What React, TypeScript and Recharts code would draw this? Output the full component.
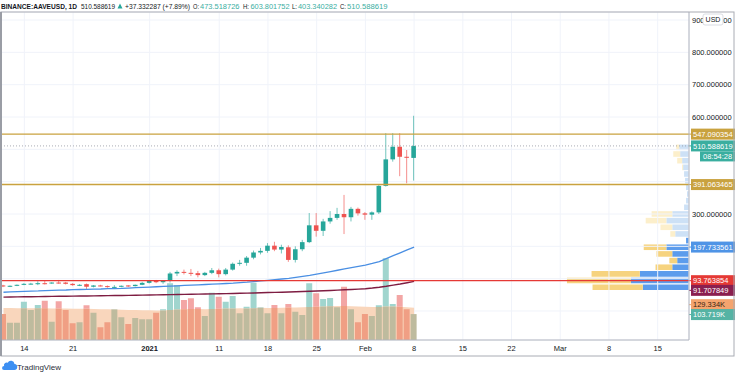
import React from 'react';
import {
  ComposedChart,
  BarChart,
  Bar,
  Line,
  Area,
  XAxis,
  YAxis,
  CartesianGrid,
  ReferenceLine,
  Cell,
} from 'recharts';

const FONT = '"Liberation Sans", Arial, sans-serif';
const UP = '#26a69a';
const DOWN = '#ef5350';

// day axis: Dec 11 2020 .. Mar 19 2021 (candles only up to Feb 8)
const FIRST_DAY = Date.UTC(2020, 11, 11);
const DAY_COUNT = 99;
const dayKeys = Array.from({ length: DAY_COUNT }, (_, i) =>
  new Date(FIRST_DAY + i * 86400000).toISOString().slice(0, 10)
);

const tickKeys = [
  '2020-12-14', '2020-12-21', '2021-01-01', '2021-01-11', '2021-01-18', '2021-01-25',
  '2021-02-01', '2021-02-08', '2021-02-15', '2021-02-22', '2021-03-01', '2021-03-08', '2021-03-15',
];
const tickLabels = ['14', '21', '2021', '11', '18', '25', 'Feb', '8', '15', '22', 'Mar', '8', '15'];

// OHLC, Dec 11 -> Feb 8
const opens = [
  79, 76, 78, 81, 84, 84, 86, 85.5, 88, 88, 84, 79, 83, 75, 79, 77, 74, 75, 79, 77, 81,
  87, 93, 89, 93, 116, 121, 118, 117, 111, 118, 126, 114, 128, 146, 149, 165, 181, 186, 202, 190,
  197, 158, 191, 213, 265, 248, 277, 288, 300, 290, 316,
  302, 298, 305, 387, 469, 508, 477, 473.518726,
];
const highs = [
  81, 79, 82, 86, 87, 92, 95, 89, 96, 90, 86, 83, 85, 80, 81, 79, 80, 79, 80, 82, 90,
  94, 96, 95, 121, 126, 128, 130, 124, 121, 133, 131, 133, 150, 158, 170, 187, 195, 210, 214, 205,
  203, 200, 220, 303, 303, 285, 309, 319, 359, 322, 320,
  306, 308, 392, 550, 550, 550, 498, 603.801752,
];
const lows = [
  74, 74, 77, 80, 82, 80, 82, 84, 84, 82, 78, 77, 67, 73, 76, 72, 70, 73, 74, 76, 80,
  85, 86, 84, 88, 108, 113, 108, 104, 108, 114, 104, 110, 125, 140, 140, 160, 175, 180, 185, 178,
  152, 150, 185, 210, 230, 232, 270, 282, 238, 277, 295,
  282, 282, 300, 385, 462, 417, 395, 403.340282,
];
const closes = [
  76, 78, 81, 84, 84.6, 86, 85.4, 88, 87, 84, 80, 81, 75, 79, 77, 74, 74.6, 78, 77, 81, 87,
  93, 89, 93, 116, 121, 118, 117, 111, 118, 126, 114, 128, 146, 149, 165, 181, 186, 202, 190, 198,
  158, 191, 213, 265, 248, 277, 288, 300, 290, 316, 302,
  298, 305, 387, 469, 508, 477, 474, 510.588619,
];

// volume (thousands) and its moving average
const volumes = [
  104, 69, 69, 153, 120, 140, 157, 73, 155, 120, 67, 71, 139, 109, 51, 71, 123, 91, 64, 88, 83,
  83, 109, 123, 227, 220, 160, 167, 131, 96, 189, 173, 153, 176, 107, 133, 229, 131, 107, 140, 107,
  144, 113, 100, 227, 187, 164, 168, 131, 213, 123, 71,
  104, 96, 139, 327, 144, 180, 123, 103.719,
];
const volumeMa = [
  128, 128, 127, 127, 127, 127, 127, 126, 126, 126, 125, 125, 125, 124, 123, 123, 122, 121, 120, 120, 119,
  119, 118, 118, 120, 122, 123, 124, 124, 123, 124, 125, 126, 126, 127, 126, 127, 129, 128, 128, 129,
  130, 130, 131, 132, 133, 134, 135, 136, 136, 135, 134,
  133, 132, 132, 134, 134, 133, 131, 129.334,
];

// moving averages
const blueMa = [
  58, 59, 60, 61, 61.5, 62, 63, 64, 64.5, 65, 66, 66.5, 67, 67.5, 68, 69, 69.5, 70, 71, 72, 73,
  74, 75, 76, 77, 78, 79, 80, 81, 82, 83, 84, 85, 86, 88, 89, 91, 93, 95, 97, 99,
  101, 104, 107, 110, 114, 118, 122, 126, 130, 134, 138,
  142, 147, 153, 162, 171, 180, 189, 197.733561,
];
const maroonMa = [
  43, 43.3, 43.6, 43.9, 44.2, 44.5, 44.8, 45.1, 45.4, 45.7, 46, 46.3, 46.6, 46.9, 47.2, 47.5, 47.8, 48.1, 48.4, 48.7, 49,
  49.4, 49.8, 50.2, 50.6, 51, 51.4, 51.8, 52.2, 52.6, 53, 53.4, 53.8, 54.3, 54.8, 55.3, 55.8, 56.4, 57, 57.6, 58.2,
  58.8, 59.5, 60.2, 61, 61.8, 62.6, 63.5, 64.5, 65.5, 66.5, 67.6,
  69, 71, 73.5, 76.5, 80, 83.5, 87.5, 91.707849,
];

// visible range volume profile
const profilePrices = [
  75, 95.6, 116.2, 136.8, 157.4, 178, 198.6, 219.2, 239.8, 260.4, 281, 301.6, 322.2,
  342.8, 363.4, 384, 404.6, 425.2, 445.8, 466.4, 487, 507.6,
];
const profileUp = [47, 59, 50, 17, 12, 17, 23, 3, 14, 17, 23, 17, 5, 3, 2, 3, 4, 5, 6, 7, 9, 10];
const profileDown = [51, 65, 49, 17, 8, 16, 23, 0, 5, 12, 21, 21, 0, 0, 0, 0, 0, 0, 1, 5, 7, 3];
const valueAreaRows = 8;

const priceTicks = [0, 100, 200, 300, 400, 500, 600, 700, 800, 900];
const shownPriceTicks = [300, 600, 700, 800, 900];
const PRICE_DOMAIN: [number, number] = [-89.7, 924.8];
const VOL_DOMAIN: [number, number] = [0, 1312];

const rows = dayKeys.map((key, i) => ({
  key,
  open: opens[i],
  high: highs[i],
  low: lows[i],
  close: closes[i],
  vol: volumes[i],
  volMa: volumeMa[i],
  ma50: blueMa[i],
  ma200: maroonMa[i],
}));

const profileRows = profilePrices.map((price, i) => ({
  price,
  up: profileUp[i],
  down: profileDown[i],
  strong: i < valueAreaRows,
}));

const Candle = (props: any) => {
  const { x, y, width, height, payload } = props;
  if (!payload || payload.open == null || !isFinite(y)) return null;
  const { open, close, high, low } = payload;
  const k = height / (high - low);
  const cx = x + width / 2;
  const yO = y + (high - open) * k;
  const yC = y + (high - close) * k;
  const color = close >= open ? UP : DOWN;
  const top = Math.min(yO, yC);
  const h = Math.max(1, Math.abs(yO - yC));
  return (
    <g>
      <line x1={cx} x2={cx} y1={y} y2={y + height} stroke={color} strokeOpacity={0.65} />
      <rect x={cx - 2.3} y={top} width={4.6} height={h} fill={color} />
    </g>
  );
};

const VolBar = (props: any) => {
  const { x, y, width, height, payload } = props;
  if (!payload || payload.vol == null || !isFinite(y) || height <= 0) return null;
  const k = height / payload.vol;
  const base = y + height;
  const split = base - Math.min(payload.volMa, payload.vol) * k;
  const up = payload.close >= payload.open;
  return (
    <g>
      <rect x={x} y={y} width={width} height={split - y} fill={up ? '#a0d5ce' : '#f3a6a5'} />
      <rect x={x} y={split} width={width} height={base - split} fill={up ? '#bebb9e' : '#f09f84'} />
    </g>
  );
};

const PriceTick = (p: any) => {
  const v = p.payload.value;
  if (!shownPriceTicks.includes(v)) return <g />;
  return (
    <text x={p.x + 3} y={p.y + 2.7} fontSize={7.5} fill="#131722" fontFamily={FONT}>
      {v.toFixed(6)}
    </text>
  );
};

const DateTick = (p: any) => {
  const label = tickLabels[tickKeys.indexOf(p.payload.value)];
  return (
    <text
      x={p.x}
      y={p.y + 10.7}
      textAnchor="middle"
      fontSize={7.5}
      fontWeight={label === '2021' ? 'bold' : 'normal'}
      fill="#131722"
      fontFamily={FONT}
    >
      {label}
    </text>
  );
};

// coloured price tag on the right scale
const tag = (text: string, bg: string, dy = 0, fg = '#ffffff', sub?: string) => (props: any) => {
  const vb = props.viewBox ?? props;
  const x = (vb.x ?? 0) + (vb.width ?? 0);
  const y = (vb.y ?? 0) + dy;
  return (
    <g>
      <line x1={x} x2={x + 3} y1={y} y2={y} stroke={bg} />
      <rect x={x + 2} y={y - 5.5} width={44} height={11} fill={bg} />
      <text x={x + 4} y={y + 2.8} fontSize={7.5} fill={fg} fontFamily={FONT}>
        {text}
      </text>
      {sub && (
        <g>
          <rect x={x + 11} y={y + 5.5} width={35} height={10} fill={bg} />
          <text x={x + 14} y={y + 13.3} fontSize={7.5} fill={fg} fontFamily={FONT}>
            {sub}
          </text>
        </g>
      )}
    </g>
  );
};

const Header = () => {
  const seg = (x: number, len: number, s: string, fill = '#131722', bold = false) => (
    <text
      x={x}
      y={8.8}
      fontSize={7.2}
      fill={fill}
      fontWeight={bold ? 'bold' : 'normal'}
      fontFamily={FONT}
      textLength={len}
      lengthAdjust="spacingAndGlyphs"
    >
      {s}
    </text>
  );
  const teal = '#3aae9f';
  return (
    <svg width={736} height={12} style={{ position: 'absolute', left: 0, top: 0 }}>
      {seg(1, 76, 'BINANCE:AAVEUSD, 1D', '#131722', true)}
      {seg(81, 34, '510.588619')}
      <polygon points="117.5,8.6 122.5,8.6 120,3.4" fill={UP} />
      {seg(125, 65, '+37.332287 (+7.89%)')}
      {seg(193, 6, 'O:')}
      {seg(200, 39.5, '473.518726', teal)}
      {seg(243, 6, 'H:')}
      {seg(250.5, 39, '603.801752', teal)}
      {seg(292, 5, 'L:')}
      {seg(298, 39, '403.340282', teal)}
      {seg(340, 6, 'C:')}
      {seg(347, 40.5, '510.588619', teal)}
    </svg>
  );
};

export default function App() {
  return (
    <div
      style={{
        position: 'absolute',
        left: 0,
        top: 0,
        width: 736,
        height: 374,
        background: '#ffffff',
        overflow: 'hidden',
      }}
    >
      <Header />

      {/* volume profile, drawn under the price chart */}
      <div style={{ position: 'absolute', left: 0, top: 0 }}>
        <BarChart
          layout="vertical"
          width={736}
          height={357}
          data={profileRows}
          margin={{ top: 12, right: 47, bottom: 17, left: 0 }}
        >
          <XAxis type="number" domain={[0, 700]} reversed hide />
          <YAxis type="number" dataKey="price" domain={PRICE_DOMAIN} allowDataOverflow reversed hide />
          <Bar dataKey="up" stackId="p" barSize={5.6} isAnimationActive={false}>
            {profileRows.map((r, i) => (
              <Cell key={i} fill={r.strong ? '#5c9cec' : '#cde1f6'} />
            ))}
          </Bar>
          <Bar dataKey="down" stackId="p" barSize={5.6} isAnimationActive={false}>
            {profileRows.map((r, i) => (
              <Cell key={i} fill={r.strong ? '#f6d37e' : '#fcefcb'} />
            ))}
          </Bar>
        </BarChart>
      </div>

      <div style={{ position: 'absolute', left: 0, top: 0 }}>
        <ComposedChart
          width={736}
          height={357}
          data={rows}
          margin={{ top: 12, right: 0, bottom: 0, left: 0 }}
        >
          <CartesianGrid stroke="#f0f3fa" />
          <XAxis
            dataKey="key"
            ticks={tickKeys}
            interval={0}
            height={17}
            tickSize={0}
            tickMargin={0}
            tick={DateTick}
            axisLine={{ stroke: '#b2b5be' }}
          />
          <XAxis xAxisId="v" dataKey="key" hide />
          <YAxis
            orientation="right"
            width={47}
            domain={PRICE_DOMAIN}
            allowDataOverflow
            ticks={priceTicks}
            interval={0}
            tickSize={0}
            tickMargin={0}
            tick={PriceTick}
            axisLine={{ stroke: '#b2b5be' }}
          />
          <YAxis yAxisId="vol" hide domain={VOL_DOMAIN} allowDataOverflow />

          <Area
            xAxisId="v"
            yAxisId="vol"
            dataKey="volMa"
            type="linear"
            stroke="none"
            fill="#f9d6bc"
            fillOpacity={1}
            isAnimationActive={false}
          />
          <Bar
            xAxisId="v"
            yAxisId="vol"
            dataKey="vol"
            barSize={6}
            shape={VolBar}
            isAnimationActive={false}
          />

          <Line dataKey="ma50" stroke="#4a8fe3" strokeWidth={1.3} dot={false} isAnimationActive={false} />
          <Line dataKey="ma200" stroke="#7e1d42" strokeWidth={1.4} dot={false} isAnimationActive={false} />

          <Bar
            dataKey={(d: any) => (d.open == null ? null : [d.low, d.high])}
            barSize={6}
            shape={Candle}
            isAnimationActive={false}
          />

          <ReferenceLine y={547.090354} stroke="#c9a23f" strokeWidth={1.4} label={tag('547.090354', '#c9a23f')} />
          <ReferenceLine
            y={510.588619}
            stroke="#9598a1"
            strokeWidth={0.8}
            strokeDasharray="1 2"
            label={tag('510.588619', '#3aae9f', 0, '#ffffff', '08:54:28')}
          />
          <ReferenceLine y={391.063465} stroke="#c9a23f" strokeWidth={1.4} label={tag('391.063465', '#c9a23f')} />
          <ReferenceLine y={197.733561} stroke="none" label={tag('197.733561', '#4f94e6')} />
          <ReferenceLine y={93.763854} stroke="#e53935" strokeWidth={1.3} label={tag('93.763854', '#e53935')} />
          <ReferenceLine y={91.707849} stroke="none" label={tag('91.707849', '#8a1f4f', 9)} />
          <ReferenceLine
            yAxisId="vol"
            y={129.334}
            stroke="none"
            label={tag('129.334K', '#f4a46e', -3, '#3a2414')}
          />
          <ReferenceLine yAxisId="vol" y={103.719} stroke="none" label={tag('103.719K', '#55b3a4', 0.5)} />
        </ComposedChart>
      </div>

      {/* frame, currency box and logo */}
      <svg width={736} height={374} style={{ position: 'absolute', left: 0, top: 0, pointerEvents: 'none' }}>
        <rect x={1} y={12} width={733} height={344} fill="none" stroke="#a9acb4" strokeWidth={1} />
        <line x1={1} x2={1} y1={12} y2={356} stroke="#9a9da5" strokeWidth={2} />
        <rect x={703} y={14} width={20} height={11} rx={2} fill="#ffffff" stroke="#d1d4dc" strokeWidth={0.8} />
        <text x={713} y={22} textAnchor="middle" fontSize={7} fill="#131722" fontFamily={FONT}>
          USD
        </text>
        <path
          d="M4 370 H14 a3 3 0 0 0 0.5-6 a3.6 3.6 0 0 0-6.8-1.2 a2.6 2.6 0 0 0-3.6 3.2 A1.9 1.9 0 0 0 4 370 Z"
          fill="#3d8ff2"
        />
        <text x={17} y={369.5} fontSize={8} fill="#2a2e39" fontFamily={FONT}>
          TradingView
        </text>
      </svg>
    </div>
  );
}
